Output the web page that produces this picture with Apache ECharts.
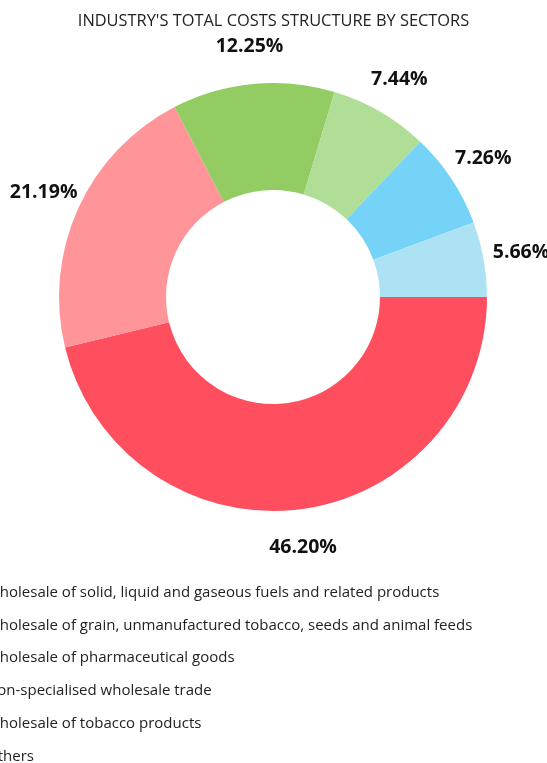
<!DOCTYPE html>
<html><head><meta charset="utf-8">
<script src="https://cdn.jsdelivr.net/npm/echarts@6/dist/echarts.min.js"></script>
<style>html,body{margin:0;padding:0;background:#fff}#c{width:547px;height:763px}</style>
</head><body><div id="c"></div>
<script>
const titleText = "INDUSTRY'S TOTAL COSTS STRUCTURE BY SECTORS";
const categories = [
  "Wholesale of solid, liquid and gaseous fuels and related products",
  "Wholesale of grain, unmanufactured tobacco, seeds and animal feeds",
  "Wholesale of pharmaceutical goods",
  "Non-specialised wholesale trade",
  "Wholesale of tobacco products",
  "Others"
];
const values = [46.20, 21.19, 12.25, 7.44, 7.26, 5.66];
const colors = ["#FF4F5E", "#FF9599", "#93CC63", "#B1DE96", "#75D3F7", "#ACE2F4"];

const chart = echarts.init(document.getElementById('c'));
const data = categories.map((n, i) => ({ name: n, value: values[i] }));
const font = "'Open Sans', sans-serif";
chart.setOption({
  animation: false,
  color: colors,
  title: {
    text: titleText, left: 'center', top: 8,
    textStyle: { fontFamily: font, fontSize: 16.4, fontWeight: 'normal', color: '#222' }
  },
  legend: {
    orient: 'vertical', left: -44, top: 585, padding: 0, height: 400,
    itemWidth: 25, itemHeight: 14, itemGap: 17.8,
    textStyle: { fontFamily: font, fontSize: 15, color: '#222' },
    data: categories
  },
  series: [
    {
      type: 'pie', center: [273, 297], radius: [107, 214],
      startAngle: 0, clockwise: true,
      label: { show: false }, labelLine: { show: false },
      itemStyle: { borderWidth: 0 },
      emphasis: { disabled: true },
      data: data
    },
    {
      type: 'pie', center: [273, 297], radius: [238, 260],
      startAngle: 0, clockwise: true, silent: true,
      itemStyle: { color: 'rgba(0,0,0,0)' },
      label: { show: true, position: 'inside', formatter: p => p.value.toFixed(2) + '%',
        fontFamily: font, fontSize: 19.5, fontWeight: 'bold', color: '#111' },
      labelLine: { show: false },
      emphasis: { disabled: true },
      legendHoverLink: false,
      data: data
    }
  ]
});
</script></body></html>
